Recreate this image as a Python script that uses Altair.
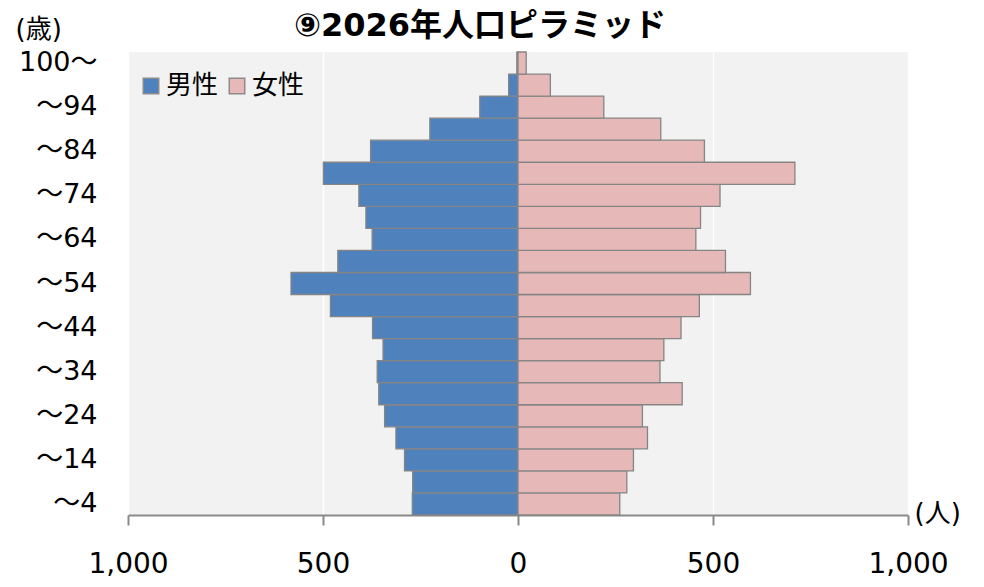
import altair as alt
import pandas as pd

# Age groups (bottom to top)
ages = ["～4", "～9", "～14", "～19", "～24", "～29", "～34", "～39", "～44", "～49",
        "～54", "～59", "～64", "～69", "～74", "～79", "～84", "～89", "～94", "～99", "100～"]
tick_labels = ["～4", "～14", "～24", "～34", "～44", "～54", "～64", "～74", "～84", "～94", "100～"]
male = [271, 270, 291, 313, 342, 357, 361, 346, 373, 481, 582, 462, 374, 390, 408, 499, 378, 226, 98, 24, 3]
female = [261, 279, 296, 332, 319, 421, 364, 374, 418, 465, 596, 532, 456, 468, 518, 710, 478, 366, 220, 83, 21]
sexes = ["男性", "女性"]
x_ticks = [-1000, -500, 0, 500, 1000]

rows = []
for a, m, f in zip(ages, male, female):
    rows.append({"age": a, "sex": sexes[0], "value": -m})
    rows.append({"age": a, "sex": sexes[1], "value": f})
df = pd.DataFrame(rows)

FONT = "DejaVu Sans, Noto Sans CJK JP"

chart = alt.Chart(df).mark_bar(stroke="#858585", strokeWidth=1.3).encode(
    x=alt.X("value:Q",
            scale=alt.Scale(domain=[-1000, 1000], nice=False),
            axis=alt.Axis(values=x_ticks,
                          labelExpr="format(abs(datum.value), ',')",
                          labelFlush=False, labelOverlap=False,
                          title="(人)", titleAngle=0, titleAlign="left",
                          titleBaseline="middle", titleX=786, titleY=-2,
                          titleFontSize=26, titleFontWeight="normal", titleFont=FONT,
                          titleColor="#000000",
                          labelFontSize=28, labelFont=FONT, labelColor="#000000",
                          labelPadding=25, tickSize=10, tickColor="#898989", tickWidth=2,
                          domainColor="#898989", domainWidth=2,
                          grid=True, gridColor="#FFFFFF", gridWidth=1.5)),
    y=alt.Y("age:N", sort=list(reversed(ages)),
            scale=alt.Scale(paddingInner=0, paddingOuter=0),
            axis=alt.Axis(values=tick_labels, title="(歳)", titleAngle=0,
                          titleAlign="left", titleBaseline="middle",
                          titleX=-113, titleY=-23, titleFontSize=26,
                          titleFontWeight="normal", titleFont=FONT, titleColor="#000000",
                          labelFontSize=27, labelFont=FONT, labelColor="#000000",
                          labelPadding=31, ticks=False, domain=False, grid=False)),
    color=alt.Color("sex:N",
                    scale=alt.Scale(domain=sexes, range=["#4F81BD", "#E6B9B8"]),
                    sort=sexes,
                    legend=alt.Legend(title=None, orient="none", direction="horizontal",
                                      legendX=10, legendY=21, padding=0,
                                      symbolType="square", symbolSize=240,
                                      symbolStrokeColor="#8C8C8C", symbolStrokeWidth=1.5,
                                      labelFontSize=26, labelFont=FONT, labelColor="#000000",
                                      labelOffset=2, columnPadding=5)),
).properties(
    width=780,
    height=463,
    padding={"left": 120, "top": 44, "right": 60, "bottom": 70},
    autosize=alt.AutoSizeParams(type="none"),
    title=alt.TitleParams("⑨2026年人口ピラミッド", fontSize=32, fontWeight="bold",
                          font=FONT, color="#000000", anchor="middle", frame="group",
                          dx=-38, dy=27, offset=0),
).configure_view(
    fill="#F2F2F2", strokeWidth=0
)

chart.save("out.html", embed_options={"renderer": "svg", "actions": False})
